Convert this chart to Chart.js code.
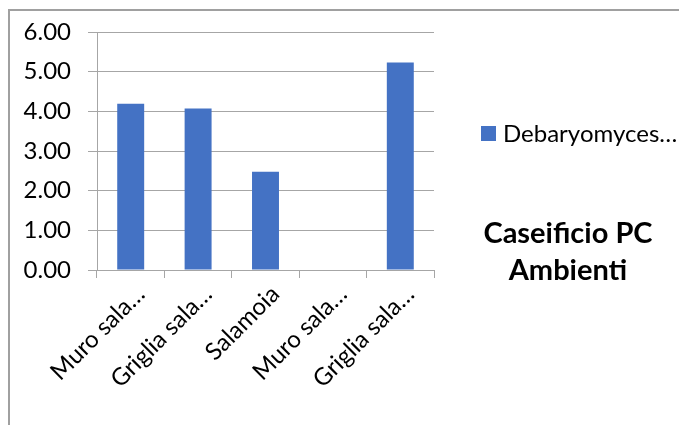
<!DOCTYPE html>
<html>
<head>
<meta charset="utf-8">
<script src="https://cdn.jsdelivr.net/npm/chart.js@4.4.1/dist/chart.umd.min.js"></script>
<style>
  html, body { margin: 0; padding: 0; background: #fff; }
  #wrap { width: 679px; height: 425px; }
</style>
</head>
<body>
<div id="wrap"><canvas id="chart" width="679" height="425"></canvas></div>
<script>
// chart data
var categories = ['Muro sala…', 'Griglia sala…', 'Salamoia', 'Muro sala…', 'Griglia sala…'];
var seriesName = 'Debaryomyces…';
var values = [4.19, 4.07, 2.48, 0, 5.23];
var yTicks = [0, 1, 2, 3, 4, 5, 6];
var titleLines = ['Caseificio PC', 'Ambienti'];

var barColor = '#4472C4';
var gridColor = '#a6a6a6';
var fontFamily = 'Lato, "Open Sans", sans-serif';

// frame, legend and title drawn next to the plot
var sidePlugin = {
    id: 'side',
    beforeDraw: function (chart) {
        var ctx = chart.ctx;
        ctx.save();
        ctx.fillStyle = '#fff';
        ctx.fillRect(0, 0, chart.width, chart.height);
        ctx.strokeStyle = '#a0a0a0';
        ctx.lineWidth = 2;
        ctx.strokeRect(9, 10, chart.width + 20, chart.height + 20);
        ctx.restore();
    },
    afterDraw: function (chart) {
        var ctx = chart.ctx;
        ctx.save();
        // legend
        ctx.fillStyle = barColor;
        ctx.fillRect(481, 126, 15, 15);
        ctx.fillStyle = '#000';
        ctx.font = '24px ' + fontFamily;
        ctx.textAlign = 'left';
        ctx.textBaseline = 'alphabetic';
        ctx.fillText(chart.data.datasets[0].label, 503, 142);
        // title
        ctx.font = 'bold 29px ' + fontFamily;
        ctx.textAlign = 'center';
        ctx.fillText(titleLines[0], 568, 243);
        ctx.fillText(titleLines[1], 568, 280);
        ctx.restore();
    }
};

var ctx = document.getElementById('chart').getContext('2d');
var chart = new Chart(ctx, {
    type: 'bar',
    data: {
        labels: categories,
        datasets: [{
            label: seriesName,
            data: values,
            backgroundColor: barColor,
            borderWidth: 0,
            categoryPercentage: 1,
            barPercentage: 0.4
        }]
    },
    options: {
        responsive: false,
        animation: false,
        events: [],
        layout: { padding: { left: 15, top: 32, right: 245, bottom: 0 } },
        plugins: {
            legend: { display: false },
            tooltip: { enabled: false },
            title: { display: false }
        },
        scales: {
            x: {
                offset: true,
                grid: {
                    offset: true,
                    drawOnChartArea: false,
                    drawTicks: true,
                    tickLength: 8,
                    color: gridColor
                },
                border: { color: gridColor, width: 1 },
                ticks: {
                    color: '#000',
                    font: { family: fontFamily, size: 24 },
                    minRotation: 45,
                    maxRotation: 45,
                    autoSkip: false,
                    padding: 2,
                    labelOffset: 10
                },
                afterFit: function (scale) { scale.height = 155; }
            },
            y: {
                min: 0,
                max: 6,
                afterBuildTicks: function (scale) {
                    scale.ticks = yTicks.map(function (v) { return { value: v }; });
                },
                grid: {
                    color: gridColor,
                    tickLength: 9,
                    drawTicks: true
                },
                border: { color: gridColor, width: 1 },
                ticks: {
                    color: '#000',
                    font: { family: fontFamily, size: 24 },
                    padding: 17,
                    callback: function (v) { return Number(v).toFixed(2); }
                },
                afterFit: function (scale) { scale.width = 82; }
            }
        }
    },
    plugins: [sidePlugin]
});
</script>
</body>
</html>
